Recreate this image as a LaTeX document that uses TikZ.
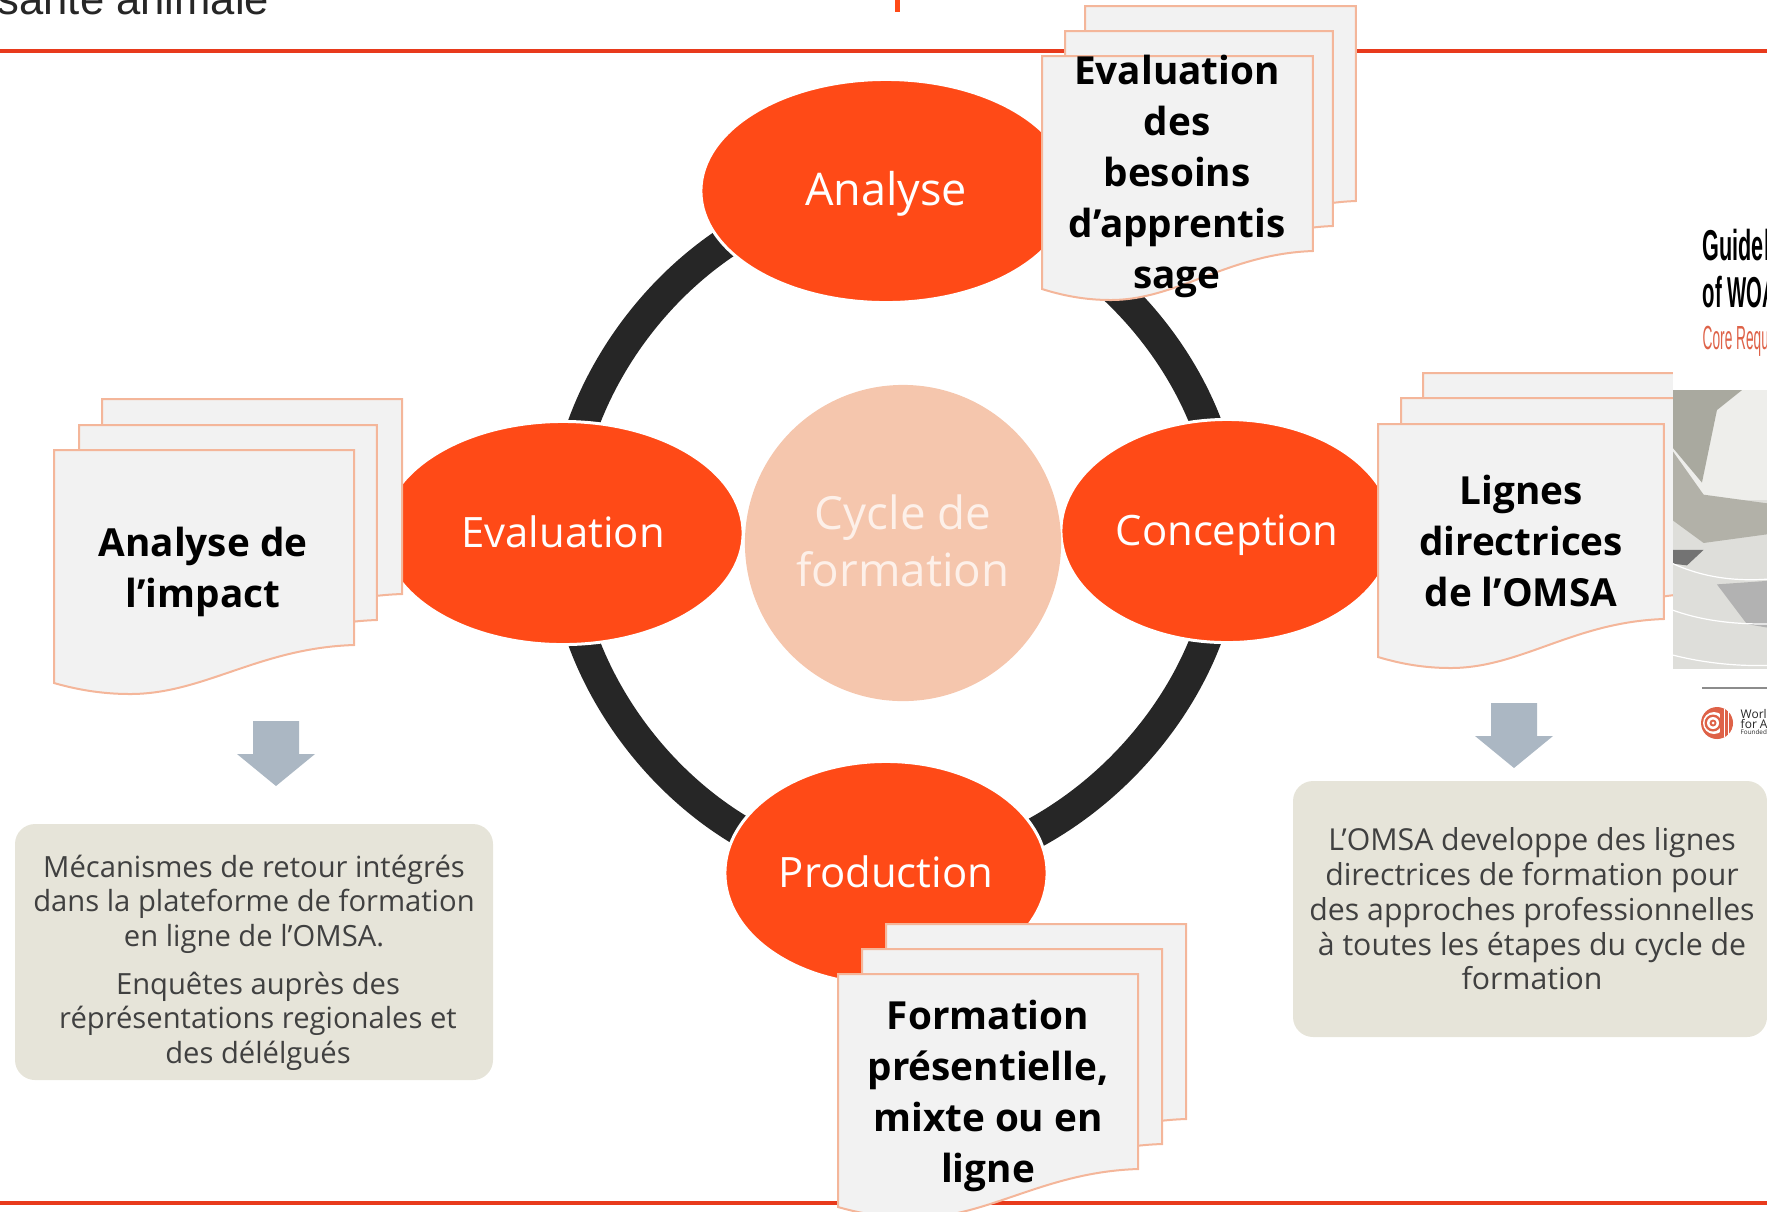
\documentclass[tikz,border=0pt]{standalone}
\usepackage{fontspec}
\setmainfont{Open Sans}
\newfontfamily\topfont{Liberation Sans}
\usetikzlibrary{shapes.geometric,backgrounds}

\definecolor{omsaorange}{HTML}{FF4A17}
\definecolor{omsaline}{HTML}{E83A1C}
\definecolor{ringdark}{HTML}{262626}
\definecolor{corecircle}{HTML}{F5C6AD}
\definecolor{coretext}{HTML}{FDF0E9}
\definecolor{sheetfill}{HTML}{F2F2F2}
\definecolor{sheetdraw}{HTML}{F4B69A}
\definecolor{notefill}{HTML}{E6E4D9}
\definecolor{notetext}{HTML}{404040}
\definecolor{arrowblue}{HTML}{ABB7C3}
\definecolor{coverred}{HTML}{DE6248}
\definecolor{photomid}{HTML}{A9A99F}
\definecolor{photoarm}{HTML}{B2B1A8}
\definecolor{photolight}{HTML}{DEDEDA}
\definecolor{photopale}{HTML}{EEEEEB}

\tikzset{
	stage/.style={ellipse,fill=omsaorange,draw=white,line width=0.03cm,text=white,minimum height=2.23cm,inner sep=0pt,text height=0.29cm,text depth=0pt,font=\fontsize{11.9}{14}\selectfont},
	ringarc/.style={draw=ringdark,line width=0.31cm,looseness=0.92},
	sheetline/.style={fill=sheetfill,draw=sheetdraw,line width=0.02cm},
	sheettext/.style={align=center,inner sep=0pt,font=\fontsize{11}{14.5}\selectfont\bfseries},
	notebox/.style={fill=notefill,rounded corners=0.2cm},
	notetxt/.style={align=center,inner sep=0pt,text=notetext,font=\fontsize{8.3}{9.8}\selectfont},
	blockarrow/.style={fill=arrowblue},
	coverhead/.style={anchor=base west,inner sep=0pt,font=\topfont\bfseries},
	coversmall/.style={anchor=base west,inner sep=0pt,text=ringdark}
}

% one sheet of a stack: left, top, xscale, yscale
\newcommand{\docsheet}[4]{
	\begin{scope}[shift={(#1,#2)},xscale=#3,yscale=#4]
		\draw[sheetline] (0,0) -- (300,0) -- (300,195) .. controls (205,198) and (150,244) .. (76,244) .. controls (46,244) and (21,239) .. (0,233) -- cycle;
	\end{scope}
}
% down arrow from its top centre
\newcommand{\blockdown}[2]{
	\fill[blockarrow,shift={(#1,#2)}] (-23,0) -- (23,0) -- (23,33) -- (39,33) -- (0,65) -- (-39,33) -- (-23,33) -- cycle;
}

\begin{document}
\begin{tikzpicture}[x=0.01cm,y=-0.01cm]
	\useasboundingbox (0,0) rectangle (1767,1211);
	\clip (0,0) rectangle (1767,1211);
	
	% Header rules and what is left of the slide title
	\draw[omsaline,line width=0.035cm] (0,51) -- (1767,51);
	\draw[omsaline,line width=0.035cm] (0,1203) -- (1767,1203);
	\node[anchor=base west,inner sep=0pt,text=ringdark,font=\topfont\fontsize{12.4}{12}\selectfont] (toptitle) at (-3,14) {santé animale};
	\fill[omsaorange] (895,0) rectangle (900,12);
	
	% Draw the four stages and the core
	\node[stage,minimum width=3.7cm,font=\fontsize{12.8}{14}\selectfont] (analyse) at (886,191) {Analyse};
	\node[stage,minimum width=3.6cm] (evaluation) at (563,533) {Evaluation};
	\node[stage,minimum width=3.32cm] (conception) at (1227,531) {Conception};
	\node[stage,minimum width=3.22cm] (production) at (886,873) {Production};
	\node[circle,fill=corecircle,minimum size=3.16cm,inner sep=0pt,text=coretext,align=center,font=\fontsize{13}{16}\selectfont,text depth=0.05cm] (core) at (903,543) {Cycle de\\formation};
	
	% Draw the ring, behind the stages
	\begin{scope}[on background layer]
		\draw[ringarc] (analyse.center) to[out=180,in=90] (evaluation.center);
		\draw[ringarc] (evaluation.center) to[out=-90,in=180] (production.center);
		\draw[ringarc] (production.center) to[out=0,in=-90] (conception.center);
		\draw[ringarc] (conception.center) to[out=90,in=0] (analyse.center);
	\end{scope}
	
	% Stacks of sheets
	\docsheet{1085}{6}{0.903}{1}
	\docsheet{1065}{31}{0.893}{1}
	\docsheet{1042}{56}{0.903}{1}
	\node[sheettext] (besoins) at (1177,176) {Evaluation\\des\\besoins\\d’apprentis\\sage};
	
	\docsheet{102}{399}{1}{1}
	\docsheet{79}{425}{0.993}{1}
	\docsheet{54}{450}{1}{1}
	\node[sheettext] (impact) at (203,572) {Analyse de\\l’impact};
	
	\docsheet{1423}{373}{1}{1}
	\docsheet{1401}{398}{1}{1}
	\docsheet{1378}{424}{0.953}{1}
	\node[sheettext] (lignes) at (1521,541) {Lignes\\directrices\\de l’OMSA};
	
	\docsheet{886}{924}{1}{1}
	\docsheet{862}{949}{1}{1}
	\docsheet{838}{974}{1}{1}
	\node[sheettext] (presentielle) at (988,1096) {Formation\\présentielle,\\mixte ou en\\ligne};
	
	% Arrows and notes
	\blockdown{276}{721}
	\blockdown{1514}{703}
	\fill[notebox] (15,824) rectangle (493,1080);
	\node[notetxt] (retour) at (254,904) {Mécanismes de retour intégrés\\dans la plateforme de formation\\en ligne de l’OMSA.};
	\node[notetxt] (enquetes) at (258,1021) {Enquêtes auprès des\\réprésentations regionales et\\des délélgués};
	\fill[notebox] (1293,781) rectangle (1767,1037);
	\node[notetxt,font=\fontsize{8.6}{9.9}\selectfont] (approches) at (1532,909) {L’OMSA developpe des lignes\\directrices de formation pour\\des approches professionnelles\\à toutes les étapes du cycle de\\formation};
	
	% Cover of the guidelines
	\fill[white] (1673,200) rectangle (1767,760);
	\node[coverhead] (guidel) at (1702,260) {\scalebox{.5}[1]{\fontsize{12.3}{12}\selectfont Guidel}};
	\node[coverhead] (ofwoa) at (1702,307) {\scalebox{.47}[1]{\fontsize{12.3}{12}\selectfont of WOA}};
	\node[coverhead,text=coverred] (corereq) at (1702,349) {\scalebox{.41}[1]{\mdseries\fontsize{9.5}{10}\selectfont Core Requ}};
	\begin{scope}[shift={(1667,210)},x=0.00333cm,y=-0.00345cm]
		\fill[photolight] (18,522) rectangle (300,1330);
		\fill[photopale] (18,522) rectangle (300,840);
		\fill[photomid] (18,522) -- (225,522) -- (150,580) -- (105,790) -- (18,690) -- cycle;
		\fill[photoarm] (18,700) -- (110,825) -- (300,850) -- (300,940) -- (110,965) -- (18,900) -- cycle;
		\fill[black!55] (18,985) -- (110,985) -- (60,1030) -- (18,1025) -- cycle;
		\fill[black!30] (150,1085) -- (300,1075) -- (300,1210) -- (240,1200) -- cycle;
		\draw[white,line width=0.012cm] (18,1025) .. controls (120,1070) and (220,1075) .. (300,1070);
		\draw[white,line width=0.012cm] (18,1160) .. controls (120,1195) and (220,1200) .. (300,1200);
		\draw[white,line width=0.012cm] (18,1290) .. controls (120,1315) and (220,1322) .. (300,1320);
	\end{scope}
	\draw[black!45,line width=0.012cm] (1702,688) -- (1767,688);
	
	% World logo
	\fill[coverred] (1717,723) ellipse (16 and 16);
	\fill[white] (1714,723) circle (11);
	\fill[coverred] (1713,723) circle (8.5);
	\fill[white] (1713,723) circle (6);
	\fill[coverred] (1713,723) circle (3.5);
	\fill[white] (1713,723) circle (1.5);
	\fill[coverred] (1720,709) -- (1720,737) .. controls (1728,732) and (1728,714) .. (1720,709) -- cycle;
	\draw[white,line width=0.006cm] (1724,709) -- (1724,737);
	\draw[white,line width=0.006cm] (1728,711) -- (1728,735);
	\node[coversmall,font=\fontsize{3.4}{3}\selectfont] (world) at (1740,718) {World};
	\node[coversmall,font=\fontsize{3.4}{3}\selectfont] (foran) at (1740,728) {for An};
	\node[coversmall,font=\fontsize{1.8}{2}\selectfont] (founded) at (1740,734) {Founded a};
\end{tikzpicture}
\end{document}
